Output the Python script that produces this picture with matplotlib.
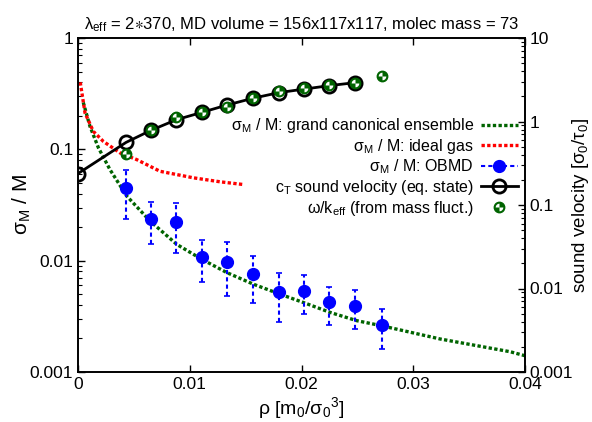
import matplotlib
matplotlib.use('Agg')
import matplotlib.pyplot as plt
import numpy as np
from matplotlib.path import Path
from matplotlib.lines import Line2D
from matplotlib.ticker import FixedLocator, FuncFormatter, LogLocator, NullFormatter

plt.rcParams['font.family'] = ['Liberation Sans', 'DejaVu Sans']
plt.rcParams['mathtext.fontset'] = 'custom'
plt.rcParams['mathtext.rm'] = 'Liberation Sans'
plt.rcParams['mathtext.it'] = 'Liberation Sans:italic'
plt.rcParams['mathtext.fallback'] = 'stixsans'

# densities of the simulated systems
rho_pts = [0.0043, 0.0065, 0.0088, 0.0111, 0.0133, 0.0157, 0.0180, 0.0202, 0.0225, 0.0248, 0.0272]

# OBMD mass fluctuations (left axis), with error bar bounds
sig_obmd = [0.0451, 0.0235, 0.0224, 0.0108, 0.00974, 0.00766, 0.00525, 0.00535, 0.00422, 0.00393, 0.00266]
sig_lo = [0.0235, 0.0140, 0.0118, 0.00637, 0.00483, 0.00413, 0.00279, 0.00331, 0.00266, 0.00243, 0.00161]
sig_hi = [0.0658, 0.0335, 0.0331, 0.0153, 0.0147, 0.0110, 0.00782, 0.0074, 0.00586, 0.00543, 0.00367]

# grand canonical curve
rho_gc = [0.00047, 0.00107, 0.00182, 0.00286, 0.00436, 0.00645, 0.00884, 0.01107, 0.01331,
          0.01569, 0.01808, 0.02017, 0.02256, 0.02495, 0.02719, 0.0324, 0.03868, 0.04]
sig_gc = [0.264, 0.161, 0.1036, 0.0658, 0.0381, 0.0227, 0.0140, 0.0103, 0.00782,
          0.00615, 0.0050, 0.00421, 0.00343, 0.00289, 0.0026, 0.00198, 0.00152, 0.0014]

# ideal gas curve
rho_ig = [0.0002, 0.00063, 0.00137, 0.00226, 0.00376, 0.00525, 0.00734, 0.01032, 0.01271, 0.0148]
sig_ig = [0.40, 0.212, 0.145, 0.118, 0.0929, 0.0809, 0.0635, 0.0555, 0.0511, 0.0483]

# sound velocity (right axis)
rho_ct = [0.0] + rho_pts[:10]
c_t = [0.238, 0.562, 0.781, 1.05, 1.288, 1.57, 1.905, 2.22, 2.44, 2.69, 2.92]
omega_k = [0.412, 0.797, 1.13, 1.288, 1.49, 1.905, 2.29, 2.51, 2.75, 2.92, 3.52]

dark_green = '#006400'
dotted = (0, (1.0, 0.7))

# quartered marker: white wedges over a green disc
quarters = Path.make_compound_path(Path.wedge(90, 180), Path.wedge(270, 360))

fig = plt.figure(figsize=(5.92, 4.22), dpi=100)
ax = fig.add_subplot(111)
fig.subplots_adjust(left=78/592, right=525/592, bottom=1-372/422, top=1-38/422)

ax.plot(rho_gc, sig_gc, color=dark_green, lw=2.4, ls=dotted)
ax.plot(rho_ig, sig_ig, color='red', lw=2.4, ls=dotted)

sig_arr = np.array(sig_obmd)
yerr = [sig_arr - np.array(sig_lo), np.array(sig_hi) - sig_arr]
eb = ax.errorbar(rho_pts, sig_obmd, yerr=yerr, fmt='o', color='blue', ms=8.5,
                 elinewidth=1.5, capsize=2, capthick=1.2, zorder=4)
eb[2][0].set_linestyle((0, (2, 1.5)))

ax.set_yscale('log')
ax.set_xlim(0, 0.04)
ax.set_ylim(0.001, 1)
ax.xaxis.set_major_locator(FixedLocator([0, 0.01, 0.02, 0.03, 0.04]))
ax.xaxis.set_major_formatter(FuncFormatter(lambda v, p: '%g' % v))
ax.yaxis.set_major_locator(FixedLocator([0.001, 0.01, 0.1, 1]))
ax.yaxis.set_major_formatter(FuncFormatter(lambda v, p: '%g' % v))
ax.yaxis.set_minor_locator(LogLocator(base=10, subs=np.arange(2, 10)))
ax.yaxis.set_minor_formatter(NullFormatter())
ax.tick_params(axis='both', which='major', direction='in', length=5, width=1, labelsize=12.5)
ax.tick_params(axis='y', which='minor', direction='in', length=3, width=0.8)
ax.tick_params(axis='x', top=True)
ax.tick_params(axis='y', right=False, which='both')

ax.set_xlabel('ρ [m$_\\mathregular{0}$/σ$_\\mathregular{0}$$^\\mathregular{3}$]', fontsize=14, labelpad=2)
ax.set_ylabel('σ$_\\mathregular{M}$ / M', fontsize=15)
ax.yaxis.set_label_coords(-0.1, 0.5)
ax.set_title('λ$_\\mathregular{eff}$ = 2$\\ast$370, MD volume = 156x117x117, molec mass = 73',
             fontsize=12, pad=6)

ax2 = ax.twinx()
ax2.set_yscale('log')
ax2.set_ylim(0.001, 10)
ax2.plot(rho_ct, c_t, color='black', lw=2, marker='o', ms=9.5, mfc='none', mew=2, zorder=3)
ax2.plot(rho_pts, omega_k, ls='none', marker='o', ms=7.5, color=dark_green, mec=dark_green, zorder=5)
ax2.plot(rho_pts, omega_k, ls='none', marker=quarters, ms=5.5, color='white', mew=0, zorder=6)
ax2.yaxis.set_major_locator(FixedLocator([0.001, 0.01, 0.1, 1, 10]))
ax2.yaxis.set_major_formatter(FuncFormatter(lambda v, p: '%g' % v))
ax2.yaxis.set_minor_locator(LogLocator(base=10, subs=np.arange(2, 10)))
ax2.yaxis.set_minor_formatter(NullFormatter())
ax2.tick_params(axis='y', which='major', direction='in', length=5, width=1, labelsize=12.5)
ax2.tick_params(axis='y', which='minor', direction='in', length=3, width=0.8)
ax2.set_ylabel('sound velocity [σ$_\\mathregular{0}$/τ$_\\mathregular{0}$]', fontsize=13.5)
ax2.yaxis.set_label_coords(1.1, 0.5)

for a in (ax, ax2):
    for s in a.spines.values():
        s.set_linewidth(1.2)

omega_handle = (
    Line2D([], [], ls='none', marker='o', ms=7.5, color=dark_green),
    Line2D([], [], ls='none', marker=quarters, ms=5.5, color='white', mew=0),
)
handles = [
    Line2D([], [], color=dark_green, lw=2.4, ls=dotted),
    Line2D([], [], color='red', lw=2.4, ls=dotted),
    Line2D([], [], color='blue', lw=1.5, ls=(0, (2, 1.5)), marker='o', ms=8.5),
    Line2D([], [], color='black', lw=2, marker='o', ms=9.5, mfc='none', mew=2),
    omega_handle,
]
labels = [
    'σ$_\\mathregular{M}$ / M: grand canonical ensemble',
    'σ$_\\mathregular{M}$ / M: ideal gas',
    'σ$_\\mathregular{M}$ / M: OBMD',
    'c$_\\mathregular{T}$ sound velocity (eq. state)',
    'ω/k$_\\mathregular{eff}$ (from mass fluct.)',
]
leg = ax2.legend(handles, labels, loc='upper right', bbox_to_anchor=(0.984, 0.765),
                 frameon=False, markerfirst=False, fontsize=11.5, handlelength=2.3,
                 handletextpad=0.45, labelspacing=0.1, borderaxespad=0, borderpad=0)
for t in leg.get_texts():
    t.set_ha('right')

fig.savefig('out.png', dpi=100)
